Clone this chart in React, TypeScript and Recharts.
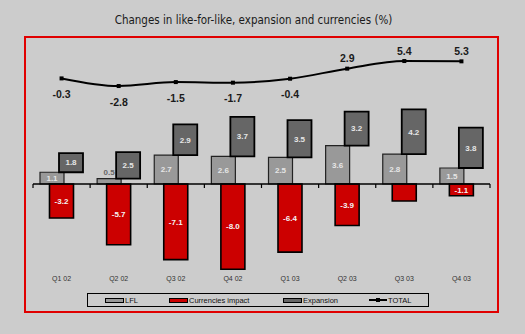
import React from "react";
import { Bar, ComposedChart, LabelList, Line, ReferenceLine, XAxis, YAxis } from "recharts";

const quarters = ["Q1 02", "Q2 02", "Q3 02", "Q4 02", "Q1 03", "Q2 03", "Q3 03", "Q4 03"];
const lfl = [1.1, 0.5, 2.7, 2.6, 2.5, 3.6, 2.8, 1.5];
const currencies = [-3.2, -5.7, -7.1, -8.0, -6.4, -3.9, -1.6, -1.1];
const expansion = [1.8, 2.5, 2.9, 3.7, 3.5, 3.2, 4.2, 3.8];
const total = [-0.3, -2.8, -1.5, -1.7, -0.4, 2.9, 5.4, 5.3];
const currencyLabelShown = [true, true, true, true, true, true, false, true];

const data = quarters.map((q, i) => ({
  q,
  lfl: lfl[i],
  cur: currencies[i],
  exp: expansion[i],
  expRange: [lfl[i], lfl[i] + expansion[i]],
  total: total[i],
  curLabel: currencyLabelShown[i] ? currencies[i].toFixed(1) : ""
}));

const BG = "#cccccc";
const LFL_GRAY = "#999999";
const EXP_GRAY = "#666666";
const CUR_RED = "#cc0000";
const ARIAL = "'Liberation Sans', Arial, sans-serif";

const barLabel = (color: string) => (props: any) => {
  const { x, y, width, height, value } = props;
  if (value === "" || value == null) return null;
  const text = typeof value === "number" ? value.toFixed(1) : String(value);
  const small = Math.abs(height) < 9;
  const cx = x + width / 2;
  const cy = small ? Math.min(y, y + height) - 6 : y + height / 2;
  return (
    <text
      x={cx}
      y={cy}
      dy="0.35em"
      textAnchor="middle"
      fontFamily={ARIAL}
      fontSize={8}
      fontWeight="bold"
      fill={small ? "#666" : color}
    >
      {text}
    </text>
  );
};

const totalLabel = (props: any) => {
  const { x, y, value } = props;
  const above = value > 0;
  return (
    <text
      x={x}
      y={above ? y - 10 : y + 16}
      dy="0.35em"
      textAnchor="middle"
      fontFamily={ARIAL}
      fontSize={10.5}
      fontWeight="bold"
      fill="#1a1a1a"
    >
      {value.toFixed(1)}
    </text>
  );
};

const squareDot = (props: any) => {
  const { cx, cy, index } = props;
  return <rect key={index} x={cx - 2} y={cy - 2} width={4} height={4} fill="#000" />;
};

const zeroAxis = (props: any) => {
  const { x1, y1, x2 } = props;
  const n = quarters.length;
  const ticks = [];
  for (let k = 0; k <= n; k++) {
    const tx = x1 + ((x2 - x1) * k) / n;
    ticks.push(<line key={k} x1={tx} x2={tx} y1={y1} y2={y1 + 4} stroke="#000" strokeWidth={1.2} />);
  }
  return (
    <g>
      <line x1={x1} x2={x2} y1={y1} y2={y1} stroke="#000" strokeWidth={1.6} />
      {ticks}
    </g>
  );
};

const legendItems = [
  { name: "LFL", color: LFL_GRAY, left: 17 },
  { name: "Currencies impact", color: CUR_RED, left: 81 },
  { name: "Expansion", color: EXP_GRAY, left: 195 },
  { name: "TOTAL", color: "line", left: 281 }
];

function ChartLegend() {
  return (
    <div
      style={{
        position: "absolute",
        left: 87,
        top: 293,
        width: 340,
        height: 12,
        border: "1.5px solid #000",
        background: BG
      }}
    >
      {legendItems.map((it) => (
        <div
          key={it.name}
          style={{
            position: "absolute",
            left: it.left,
            top: 0,
            height: 12,
            display: "flex",
            alignItems: "center",
            fontFamily: ARIAL,
            fontSize: 7.5,
            color: "#111"
          }}
        >
          {it.color === "line" ? (
            <svg width={18} height={8}>
              <line x1={0} x2={18} y1={4} y2={4} stroke="#000" strokeWidth={2} />
              <rect x={7} y={2} width={4} height={4} fill="#000" />
            </svg>
          ) : (
            <span
              style={{
                display: "inline-block",
                width: 17,
                height: 3,
                background: it.color,
                border: "1px solid #000"
              }}
            />
          )}
          <span style={{ marginLeft: 1 }}>{it.name}</span>
        </div>
      ))}
    </div>
  );
}

export default function App() {
  return (
    <div style={{ position: "fixed", left: 0, top: 0, width: 525, height: 334, background: BG, overflow: "hidden" }}>
      <div
        style={{
          position: "absolute",
          left: 0,
          top: 13,
          width: 507,
          textAlign: "center",
          fontFamily: "'DejaVu Sans Condensed', 'DejaVu Sans', sans-serif",
          fontStretch: "condensed",
          fontSize: 11.5,
          color: "#1a1a1a"
        }}
      >
        Changes in like-for-like, expansion and currencies (%)
      </div>
      <div
        style={{
          position: "absolute",
          left: 24,
          top: 36,
          width: 471,
          height: 273,
          border: "2px solid #e00000"
        }}
      />
      <div style={{ position: "absolute", left: 0, top: 0 }}>
        <ComposedChart
          width={525}
          height={334}
          data={data}
          margin={{ top: 52, right: 35, bottom: 46, left: 33 }}
          barSize={24}
          barGap={-14.5}
        >
          <XAxis
            dataKey="q"
            axisLine={false}
            tickLine={false}
            tickSize={0}
            tickMargin={2}
            height={14}
            interval={0}
            tick={{ fontFamily: ARIAL, fontSize: 7, fill: "#333" }}
          />
          <YAxis yAxisId="left" hide domain={[-8.45, 12.39]} allowDataOverflow />
          <YAxis yAxisId="right" hide orientation="right" domain={[-64.43, 8.36]} allowDataOverflow />
          <Bar yAxisId="left" dataKey="lfl" fill={LFL_GRAY} stroke="#222" strokeWidth={1.2} isAnimationActive={false}>
            <LabelList dataKey="lfl" content={barLabel("#e6e6e6")} />
          </Bar>
          <Bar yAxisId="left" dataKey="cur" fill={CUR_RED} stroke="#000" strokeWidth={1.6} isAnimationActive={false}>
            <LabelList dataKey="curLabel" content={barLabel("#f4f4f4")} />
          </Bar>
          <Bar yAxisId="left" dataKey="expRange" fill={EXP_GRAY} stroke="#000" strokeWidth={1.8} isAnimationActive={false}>
            <LabelList dataKey="exp" content={barLabel("#e6e6e6")} />
          </Bar>
          <ReferenceLine yAxisId="left" y={0} shape={zeroAxis} />
          <Line
            yAxisId="right"
            type="monotone"
            dataKey="total"
            stroke="#000"
            strokeWidth={2}
            dot={squareDot}
            activeDot={false}
            isAnimationActive={false}
          >
            <LabelList dataKey="total" content={totalLabel} />
          </Line>
        </ComposedChart>
      </div>
      <ChartLegend />
    </div>
  );
}
